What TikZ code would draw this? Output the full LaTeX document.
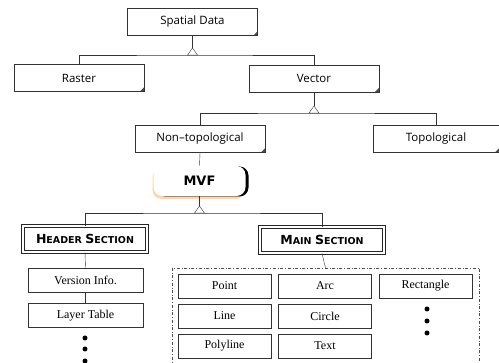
\documentclass[tikz,border=0pt]{standalone}
\usepackage{fontspec}
\setmainfont{Liberation Serif}
\newfontfamily\topfont{Open Sans}
\newfontfamily\capsfont{DejaVu Sans}
\usepackage{tikz}
\usetikzlibrary{positioning, shadows, shapes.geometric}
\newcommand{\fakesc}[2]{{\fontsize{12.5}{14}\selectfont #1}{\fontsize{9.5}{11}\selectfont #2}}
\newcommand{\genmark}[1]{\draw[fill=white] (#1) -- ++(-5,7) -- ++(10,0) -- cycle;}

\tikzset{
  upper/.style={draw=black!80, font=\topfont\fontsize{11.5}{13}\selectfont, minimum width=130pt,
    minimum height=27pt, inner sep=0pt,
    path picture={\fill[black!70] (path picture bounding box.south east) -- ++(-4,0) -- ++(4,-4) -- cycle;}},
  mvf/.style={fill=white, rounded corners=9pt, minimum width=92pt, minimum height=30pt,
    font=\capsfont\bfseries\fontsize{13}{15}\selectfont,
    general shadow={fill=orange!55, opacity=0.6, shadow xshift=-1pt, shadow yshift=-3pt},
    general shadow={fill=black, shadow xshift=3pt, shadow yshift=-0.5pt}},
  section/.style={draw=black!85, double, double distance=2pt, line width=0.6pt,
    font=\capsfont\bfseries, minimum width=124pt, minimum height=26pt, inner sep=0pt},
  entry/.style={draw=black!80, minimum width=115pt, minimum height=24pt, inner sep=0pt,
    font=\fontsize{12}{14}\selectfont},
  cell/.style={draw=black!80, minimum width=93pt, minimum height=24pt, inner sep=0pt,
    font=\fontsize{12}{14}\selectfont},
  frame/.style={draw=black!70, dash dot, minimum width=307pt, minimum height=104pt}
}

\begin{document}
\begin{tikzpicture}[x=1pt, y=-1pt, draw=black!80]
  \useasboundingbox (0,0) rectangle (499,363);

  \node[upper] (spatial) at (192.5,22) {Spatial Data};
  \node[upper] (raster) at (79,78) {Raster};
  \node[upper] (vector) at (314,78.5) {Vector};
  \node[upper] (nontopo) at (200,139) {Non–topological};
  \node[upper, minimum width=126pt] (topo) at (436,139) {Topological};

  \node[mvf] (mvf) at (199.5,181) {MVF};

  \node[section] (header) at (85,239) {\fakesc{H}{EADER} \fakesc{S}{ECTION}};
  \node[section] (main) at (322,240) {\fakesc{M}{AIN} \fakesc{S}{ECTION}};

  \node[entry] (version) at (85.5,280) {Version Info.};
  \node[entry] (layer) at (85.5,315.5) {Layer Table};

  \node[frame] (grid) at (325.5,320) {};
  \node[cell] (point) at (224.5,286) {Point};
  \node[cell] (arc) at (325,286) {Arc};
  \node[cell] (rect) at (425.5,286) {Rectangle};
  \node[cell] (line) at (224.5,316) {Line};
  \node[cell] (circle) at (325,316) {Circle};
  \node[cell] (poly) at (224.5,346) {Polyline};
  \node[cell] (text) at (325,346) {Text};

  \coordinate (j1) at (192.5,48);
  \coordinate (b1) at (192.5,55);
  \coordinate (j2) at (314,106);
  \coordinate (b2) at (314,113);
  \coordinate (j3) at (199.5,206);
  \coordinate (b3) at (199.5,213);

  \draw (spatial.south) -- (j1);
  \draw (raster.north) |- (b1) -| (vector.north);
  \genmark{j1}
  \draw (vector.south) -- (j2);
  \draw (nontopo.north) |- (b2) -| (topo.north);
  \genmark{j2}
  \draw (nontopo.south) -- (mvf.north);
  \draw (mvf.south) -- (j3);
  \draw (header.north) |- (b3) -| (main.north);
  \genmark{j3}

  \draw (header.south) -- (version.north);
  \draw (version.south) -- (layer.north);
  \draw (main.south) -- (grid.north);

  \foreach \y in {338,349,361}
    \fill[black] (85,\y) circle (2.5pt);
  \foreach \y in {309,321,333}
    \fill[black] (427,\y) circle (2.5pt);
\end{tikzpicture}
\end{document}
